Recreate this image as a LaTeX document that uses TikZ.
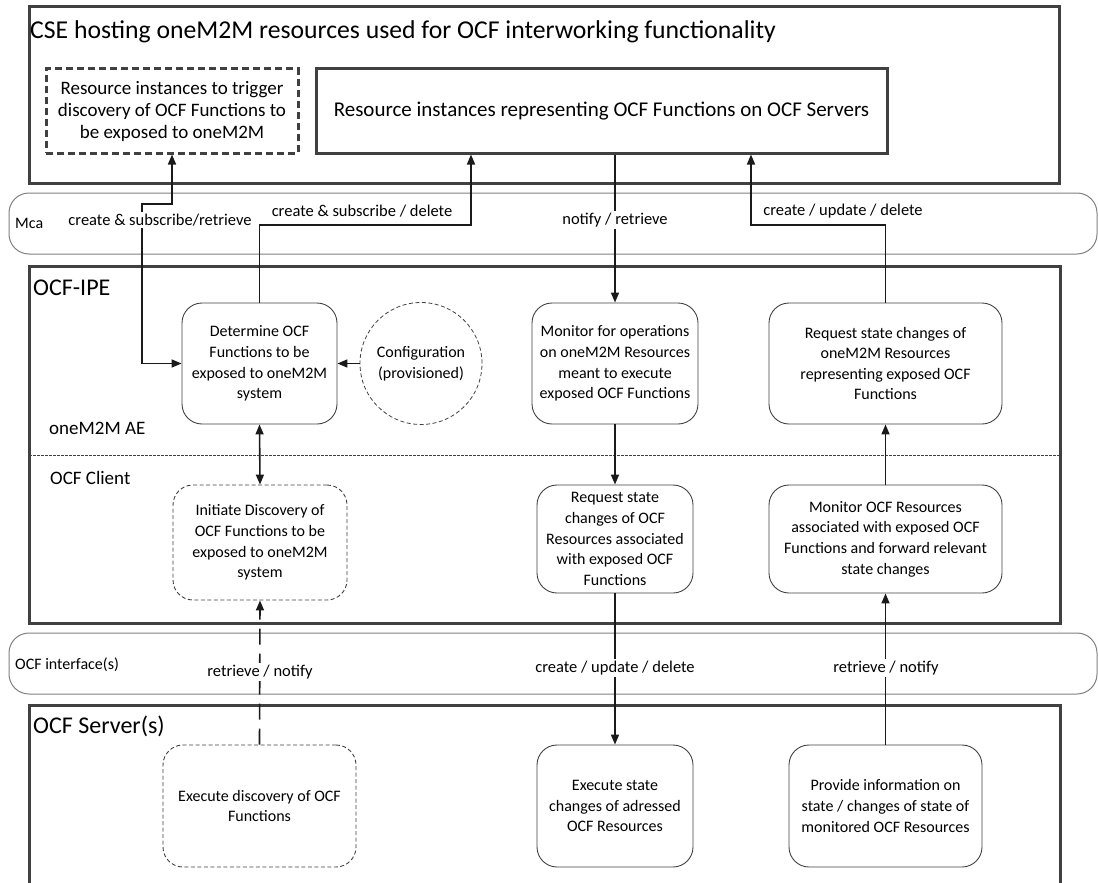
\documentclass[tikz,border=0pt]{standalone}
\usepackage{fontspec}
\setmainfont{Carlito}
\usetikzlibrary{arrows.meta}
\definecolor{boxgray}{HTML}{404040}
\definecolor{arrcol}{HTML}{1A1A1A}
\definecolor{bandgray}{HTML}{808080}
\newcommand\fsn{\fontsize{16}{20.6}\selectfont}
\newcommand\fse{\fontsize{16.5}{20}\selectfont}
\newcommand\fsm{\fontsize{19}{22}\selectfont}
\newcommand\fsr{\fontsize{21}{24}\selectfont}
\newcommand\fsl{\fontsize{19}{22}\selectfont}
\newcommand\fsb{\fontsize{24}{28}\selectfont}
\newcommand\fst{\fontsize{25.7}{30}\selectfont}
\tikzset{
  container/.style={draw=boxgray, line width=3pt},
  topbox/.style={draw=boxgray, line width=3pt, align=center, font=\fsm, inner sep=0pt},
  proc/.style={draw=boxgray, line width=0.9pt, rounded corners=20pt, align=center, font=\fsn, inner sep=0pt},
  dproc/.style={proc, dash pattern=on 4pt off 2.5pt},
  band/.style={draw=bandgray, line width=1pt, rounded corners=20pt},
  arr/.style={-{Triangle[length=10pt,width=8pt]}, line width=1.6pt, draw=arrcol},
  darr/.style={{Triangle[length=10pt,width=8pt]}-{Triangle[length=10pt,width=8pt]}, line width=1.6pt, draw=arrcol},
  elabel/.style={font=\fse, fill=white, inner sep=1.5pt},
  clabel/.style={anchor=base west, inner sep=0pt}
}
\begin{document}
\begin{tikzpicture}[x=1pt,y=-1pt]
\useasboundingbox (0,0) rectangle (1098,883);
% containers
\draw[container] (29,7) rectangle (1059,183);
\node[clabel, font=\fst] (tcse) at (30,38.5) {CSE hosting oneM2M resources used for OCF interworking functionality};
\draw[band] (9,193) rectangle (1097,254);
\node[clabel, font=\fsn] (tmca) at (15,228) {Mca};
\draw[container] (29,266) rectangle (1060,623);
\node[clabel, font=\fsb] (tipe) at (33,295) {OCF-IPE};
\draw[boxgray, line width=0.6pt, dash pattern=on 2.5pt off 1.5pt] (29,455) -- (1060,455);
\node[clabel, font=\fsl] (tae) at (49,434) {oneM2M AE};
\node[clabel, font=\fsl] (tcl) at (50,484) {OCF Client};
\draw[band] (9,633) rectangle (1097,694);
\node[clabel, font=\fsn] (tif) at (15,669) {OCF interface(s)};
\draw[container] (29,890) -- (29,705) -- (1060,705) -- (1060,890);
\node[clabel, font=\fsb] (tsrv) at (33,733) {OCF Server(s)};
% top boxes
\node[topbox, dash pattern=on 7pt off 4pt, minimum width=252pt, minimum height=84pt] (trig) at (172,111)
  {Resource instances to trigger\\discovery of OCF Functions to\\be exposed to oneM2M};
\node[topbox, font=\fsr, minimum width=571pt, minimum height=84pt] (res) at (601.5,111)
  {Resource instances representing OCF Functions on OCF Servers};
% AE row
\node[proc, minimum width=155pt, minimum height=121pt] (det) at (259.5,363.5)
  {Determine OCF\\Functions to be\\exposed to oneM2M\\system};
\node[draw=boxgray, line width=0.8pt, dash pattern=on 4pt off 2.5pt, circle, minimum size=122pt, inner sep=0pt, align=center, font=\fsn] (conf) at (421,363.5)
  {Configuration\\(provisioned)};
\node[proc, minimum width=166pt, minimum height=121pt] (mon) at (615,363.5)
  {Monitor for operations\\on oneM2M Resources\\meant to execute\\exposed OCF Functions};
\node[proc, minimum width=233pt, minimum height=121pt] (reqm) at (885.5,363.5)
  {Request state changes of\\oneM2M Resources\\representing exposed OCF\\Functions};
% Client row
\node[dproc, minimum width=174pt, minimum height=115pt] (init) at (260,542.5)
  {Initiate Discovery of\\OCF Functions to be\\exposed to oneM2M\\system};
\node[proc, minimum width=156pt, minimum height=108pt] (reqo) at (615,539)
  {Request state\\changes of OCF\\Resources associated\\with exposed OCF\\Functions};
\node[proc, minimum width=233pt, minimum height=108pt] (mono) at (885.5,539)
  {Monitor OCF Resources\\associated with exposed OCF\\Functions and forward relevant\\state changes};
% Server row
\node[dproc, minimum width=193pt, minimum height=122pt] (exd) at (259.5,806)
  {Execute discovery of OCF\\Functions};
\node[proc, minimum width=156pt, minimum height=122pt] (exs) at (615,806)
  {Execute state\\changes of adressed\\OCF Resources};
\node[proc, minimum width=193pt, minimum height=122pt] (prov) at (885.5,806)
  {Provide information on\\state / changes of state of\\monitored OCF Resources};
% connectors
\coordinate (c1a) at (142,204);
\coordinate (c1b) at (172,204);
\draw[darr] (det.west) -| (c1a) -- (c1b) -- (trig.south);
\node[elabel] (l1) at (160,220) {create \& subscribe/retrieve};
\coordinate (c2) at (471,225);
\draw[arr] (det.north) |- (c2) -- (c2 |- res.south);
\node[font=\fse, inner sep=1pt] (l2) at (362,211) {create \& subscribe / delete};
\draw[arr] (res.south -| mon.north) -- (mon.north);
\node[elabel] (l3) at (615,220) {notify / retrieve};
\coordinate (c4) at (751,225);
\draw[arr] (reqm.north) |- (c4) -- (c4 |- res.south);
\node[font=\fse, inner sep=1pt] (l4) at (843,211) {create / update / delete};
\draw[arr] (conf.west) -- (det.east);
\draw[darr] (det.south) -- (init.north);
\draw[arr] (mon.south) -- (reqo.north);
\draw[arr] (mono.north) -- (reqm.south);
\draw[arr, dash pattern=on 16pt off 9pt] (exd.north) -- (init.south);
\node[elabel] (l5) at (260,672) {retrieve / notify};
\draw[arr] (reqo.south) -- (exs.north);
\node[elabel] (l6) at (615,668) {create / update / delete};
\draw[arr] (prov.north) -- (mono.south);
\node[elabel] (l7) at (886,668) {retrieve / notify};
\end{tikzpicture}
\end{document}
